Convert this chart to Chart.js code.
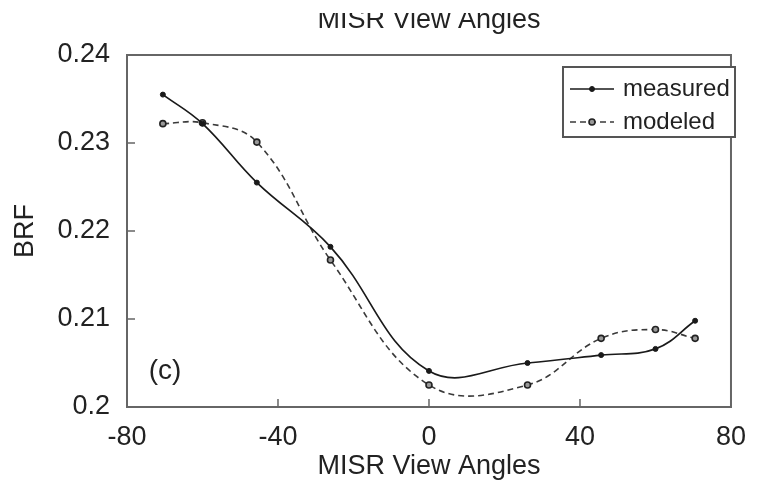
<!DOCTYPE html>
<html>
<head>
<meta charset="utf-8">
<script src="https://cdn.jsdelivr.net/npm/chart.js@4.4.0/dist/chart.umd.min.js"></script>
<style>
  html, body { margin: 0; padding: 0; background: #fff; }
  canvas { display: block; }
</style>
</head>
<body>
<canvas id="brf" width="760" height="493"></canvas>
<script>
// MISR camera view angles (deg) and BRF values
const angles = [-70.5, -60, -45.6, -26.1, 0, 26.1, 45.6, 60, 70.5];
const measured = [0.2355, 0.2322, 0.2255, 0.2182, 0.2041, 0.2050, 0.2059, 0.2066, 0.2098];
const modeled = [0.2322, 0.2323, 0.2301, 0.2167, 0.2025, 0.2025, 0.2078, 0.2088, 0.2078];

const xTicks = [-80, -40, 0, 40, 80];
const xTickLabels = ['-80', '-40', '0', '40', '80'];
const yTicks = [0.2, 0.21, 0.22, 0.23, 0.24];
const yTickLabels = ['0.2', '0.21', '0.22', '0.23', '0.24'];

const FONT = '"Liberation Sans", Arial, sans-serif';
const INK = '#222';

const toPoints = (ys) => angles.map((a, i) => ({ x: a, y: ys[i] }));

// frame, inward tick marks, boxed legend, panel tag and clipped top title
const decorations = {
  id: 'decorations',
  afterDraw(chart) {
    const { ctx, chartArea: ca, scales } = chart;
    const x = scales.x, y = scales.y;
    ctx.save();

    ctx.strokeStyle = '#666';
    ctx.lineWidth = 2;
    ctx.strokeRect(ca.left, ca.top, ca.right - ca.left, ca.bottom - ca.top);

    ctx.lineWidth = 1.5;
    ctx.beginPath();
    xTicks.slice(1, -1).forEach(v => {
      const px = x.getPixelForValue(v);
      ctx.moveTo(px, ca.bottom);
      ctx.lineTo(px, ca.bottom - 8);
    });
    yTicks.slice(1, -1).forEach(v => {
      const py = y.getPixelForValue(v);
      ctx.moveTo(ca.left, py);
      ctx.lineTo(ca.left + 8, py);
    });
    ctx.stroke();

    // legend box
    const lx = 563, ly = 67, lw = 172, lh = 70;
    ctx.strokeStyle = '#555';
    ctx.lineWidth = 2;
    ctx.fillStyle = '#fff';
    ctx.fillRect(lx, ly, lw, lh);
    ctx.strokeRect(lx, ly, lw, lh);
    chart.data.datasets.forEach((ds, i) => {
      const rowY = ly + 22 + i * 33;
      ctx.strokeStyle = ds.borderColor;
      ctx.lineWidth = ds.borderWidth;
      ctx.setLineDash(ds.borderDash || []);
      ctx.beginPath();
      ctx.moveTo(lx + 7, rowY);
      ctx.lineTo(lx + 51, rowY);
      ctx.stroke();
      ctx.setLineDash([]);
      ctx.fillStyle = ds.pointBackgroundColor;
      ctx.strokeStyle = ds.pointBorderColor;
      ctx.lineWidth = ds.pointBorderWidth;
      ctx.beginPath();
      ctx.arc(lx + 29, rowY, ds.pointRadius, 0, Math.PI * 2);
      ctx.fill();
      ctx.stroke();
      ctx.fillStyle = INK;
      ctx.font = '24px ' + FONT;
      ctx.textBaseline = 'middle';
      ctx.textAlign = 'left';
      ctx.fillText(ds.label, lx + 60, rowY);
    });

    // panel tag
    ctx.fillStyle = INK;
    ctx.font = '28px ' + FONT;
    ctx.textAlign = 'center';
    ctx.textBaseline = 'middle';
    ctx.fillText('(c)', 165, 371);

    // title at the top, upper part cut off as in the source figure
    ctx.font = '27px ' + FONT;
    ctx.beginPath();
    ctx.rect(0, 13, chart.width, 40);
    ctx.clip();
    ctx.textBaseline = 'alphabetic';
    ctx.fillText('MISR View Angles', (ca.left + ca.right) / 2, 28);
    ctx.restore();
  }
};

new Chart(document.getElementById('brf'), {
  type: 'line',
  data: {
    datasets: [
      {
        label: 'measured',
        data: toPoints(measured),
        borderColor: '#1a1a1a',
        borderWidth: 1.7,
        pointBackgroundColor: '#1a1a1a',
        pointBorderColor: '#1a1a1a',
        pointBorderWidth: 1,
        pointRadius: 2.5,
        tension: 0.4,
        fill: false,
      },
      {
        label: 'modeled',
        data: toPoints(modeled),
        borderColor: '#3a3a3a',
        borderWidth: 1.6,
        borderDash: [6, 4],
        pointBackgroundColor: '#999',
        pointBorderColor: '#222',
        pointBorderWidth: 1.6,
        pointRadius: 3,
        tension: 0.4,
        fill: false,
      },
    ],
  },
  options: {
    responsive: false,
    animation: false,
    layout: { padding: { top: 55, right: 17, left: 0, bottom: 0 } },
    plugins: {
      legend: { display: false },
      tooltip: { enabled: false },
    },
    scales: {
      x: {
        type: 'linear',
        min: -80,
        max: 80,
        grid: { display: false, drawTicks: false },
        border: { display: false },
        afterBuildTicks: (scale) => { scale.ticks = xTicks.map(v => ({ value: v })); },
        afterFit: (scale) => { scale.height = 86; },
        ticks: {
          padding: 14,
          color: INK,
          font: { family: FONT, size: 27 },
          maxRotation: 0,
          callback: (v) => xTickLabels[xTicks.indexOf(v)],
        },
        title: {
          display: true,
          text: 'MISR View Angles',
          color: INK,
          font: { family: FONT, size: 27 },
          padding: { top: 0, bottom: 10 },
        },
      },
      y: {
        min: 0.2,
        max: 0.24,
        grid: { display: false, drawTicks: false },
        border: { display: false },
        afterBuildTicks: (scale) => { scale.ticks = yTicks.map(v => ({ value: v })); },
        afterFit: (scale) => { scale.width = 127; },
        ticks: {
          padding: 17,
          color: INK,
          font: { family: FONT, size: 27 },
          callback: (v) => yTickLabels[yTicks.indexOf(v)],
        },
        title: {
          display: true,
          text: 'BRF',
          color: INK,
          font: { family: FONT, size: 27 },
          padding: { top: 9, bottom: 0 },
        },
      },
    },
  },
  plugins: [decorations],
});
</script>
</body>
</html>
